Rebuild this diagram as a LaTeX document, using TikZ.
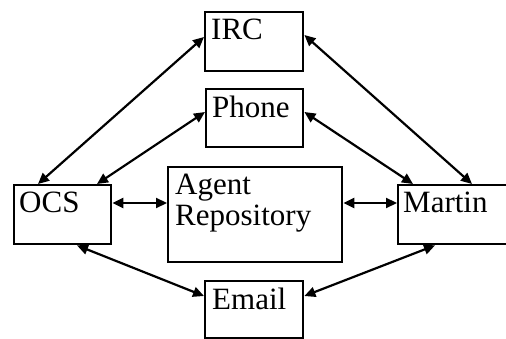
\documentclass[tikz,border=0pt]{standalone}
\usepackage{fontspec}
\setmainfont{Liberation Serif}
\usetikzlibrary{arrows.meta}
\newcommand{\bxtxt}[3]{\parbox[t][#2][t]{#1}{\vspace*{7pt}#3}}
\begin{document}
\begin{tikzpicture}[x=1pt,y=-1pt,
  box/.style={draw, line width=2.4pt, anchor=north west, inner sep=0pt, font=\fontsize{31}{31}\selectfont},
  link/.style={line width=2.2pt, {Triangle[length=11pt,width=10pt]}-{Triangle[length=11pt,width=10pt]}}]
\useasboundingbox (0,0) rectangle (506,339);
\node[box] (irc) at (204,11) {\bxtxt{98pt}{59pt}{\hspace*{6pt}IRC}};
\node[box] (phone) at (205,88) {\bxtxt{97pt}{58pt}{\hspace*{6pt}Phone}};
\node[box] (agent) at (167,166) {\bxtxt{174pt}{95pt}{\hspace*{7pt}Agent\\\hspace*{7pt}Repository}};
\node[box] (ocs) at (13,184) {\bxtxt{97pt}{59pt}{\hspace*{5pt}OCS}};
\node[box] (martin) at (397,184) {\bxtxt{115pt}{59pt}{\hspace*{5pt}Martin}};
\node[box] (email) at (204,280) {\bxtxt{98pt}{57pt}{\hspace*{7pt}Email}};
\draw[link] ([xshift=25pt]ocs.north west) -- ([yshift=-26pt]irc.north west);
\draw[link] ([xshift=84pt]ocs.north west) -- ([yshift=-24pt]phone.north west);
\draw[link] ([yshift=-24pt]irc.north east) -- ([xshift=75pt]martin.north west);
\draw[link] ([yshift=-24pt]phone.north east) -- ([xshift=16pt]martin.north west);
\draw[link] ([yshift=-19pt]ocs.north east) -- ([yshift=-37pt]agent.north west);
\draw[link] ([yshift=-37pt]agent.north east) -- ([yshift=-19pt]martin.north west);
\draw[link] ([xshift=64pt]ocs.south west) -- ([yshift=-16pt]email.north west);
\draw[link] ([xshift=38pt]martin.south west) -- ([yshift=-16pt]email.north east);
\end{tikzpicture}
\end{document}
